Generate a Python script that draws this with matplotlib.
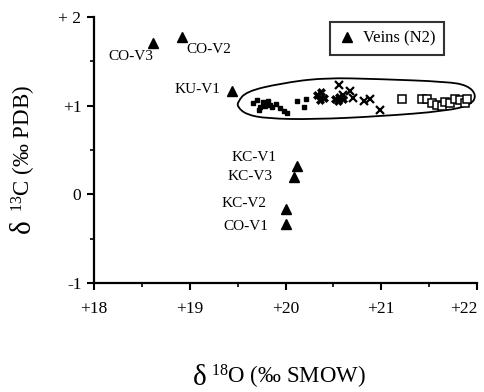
import matplotlib
matplotlib.use("Agg")
import matplotlib.pyplot as plt
from matplotlib.path import Path
from matplotlib.patches import PathPatch
from matplotlib.ticker import MultipleLocator

plt.rcParams['font.family'] = ['Liberation Serif', 'DejaVu Serif']
plt.rcParams['mathtext.fontset'] = 'custom'
plt.rcParams['mathtext.rm'] = 'Liberation Serif'
plt.rcParams['mathtext.it'] = 'Liberation Serif:italic'

# veins (N2), labelled triangles
vein_names = ["CO-V3", "CO-V2", "KU-V1", "KC-V1", "KC-V3", "KC-V2", "CO-V1"]
vein_o = [18.62, 18.92, 19.44, 20.12, 20.09, 20.01, 20.01]
vein_c = [1.71, 1.78, 1.16, 0.32, 0.19, -0.16, -0.33]
label_o = [18.38, 19.20, 19.08, 19.67, 19.63, 19.57, 19.59]
label_c = [1.56, 1.63, 1.18, 0.41, 0.20, -0.10, -0.36]

# host rock groups inside the outline
fsq_o = [19.66, 19.70, 19.73, 19.76, 19.79, 19.82, 19.86, 19.90, 19.94, 19.98,
         20.02, 19.72, 19.84, 20.12, 20.21, 20.19]
fsq_c = [1.03, 1.06, 0.99, 1.04, 1.00, 1.05, 0.98, 1.02, 0.97, 0.94,
         0.92, 0.95, 1.01, 1.05, 1.08, 0.98]
ast_o = [20.33, 20.37, 20.40, 20.36, 20.52, 20.56, 20.60, 20.55]
ast_c = [1.12, 1.15, 1.09, 1.06, 1.07, 1.10, 1.07, 1.05]
x_o = [20.56, 20.67, 20.71, 20.82, 20.88, 20.99, 20.60]
x_c = [1.23, 1.16, 1.09, 1.05, 1.08, 0.95, 1.12]
osq_o = [21.22, 21.43, 21.48, 21.53, 21.58, 21.63, 21.67, 21.72, 21.77, 21.82, 21.87, 21.90]
osq_c = [1.08, 1.07, 1.07, 1.03, 1.01, 1.00, 1.04, 1.03, 1.07, 1.06, 1.03, 1.07]

# hand-drawn outline around the host rock data
outline_o = [19.50, 19.59, 19.943, 20.395, 20.987, 21.684, 21.90, 21.995,
             21.94, 21.684, 20.987, 20.290, 19.804, 19.59, 19.50]
outline_c = [1.04, 1.16, 1.25, 1.315, 1.30, 1.27, 1.23, 1.121,
             1.01, 0.94, 0.88, 0.845, 0.855, 0.90, 0.985]

fig = plt.figure(figsize=(4.85, 3.92), dpi=100)
ax = fig.add_axes([94 / 485, 1 - 283 / 392, 383 / 485, 266 / 392])

ax.plot(vein_o, vein_c, linestyle="none", marker="^", color="black",
        markersize=6.5, label="Veins (N2)")
for name, xo, yc in zip(vein_names, label_o, label_c):
    ax.text(xo, yc, name, ha="center", va="center", fontsize=11)

ax.plot(fsq_o, fsq_c, linestyle="none", marker="s", color="black", markersize=3.5)
ax.plot(ast_o, ast_c, linestyle="none", marker="X", color="black", markersize=6,
        markeredgewidth=0.5)
ax.plot(x_o, x_c, linestyle="none", marker="x", color="black", markersize=6,
        markeredgewidth=1.6)
ax.plot(osq_o, osq_c, linestyle="none", marker="s", markerfacecolor="white",
        markeredgecolor="black", markersize=5.5, markeredgewidth=1.1)

# closed quadratic spline through the outline
pts = list(zip(outline_o, outline_c))
n = len(pts)
mids = [((pts[i][0] + pts[(i + 1) % n][0]) / 2, (pts[i][1] + pts[(i + 1) % n][1]) / 2)
        for i in range(n)]
verts = [mids[-1]]
codes = [Path.MOVETO]
for i in range(n):
    verts += [pts[i], mids[i]]
    codes += [Path.CURVE3, Path.CURVE3]
ax.add_patch(PathPatch(Path(verts, codes), facecolor="none", edgecolor="black", lw=1.3))

ax.set_xlim(18, 22)
ax.set_ylim(-1, 2)
ax.set_xticks([18, 19, 20, 21, 22])
ax.set_xticklabels(["+18", "+19", "+20", "+21", "+22"])
ax.set_yticks([-1, 0, 1, 2])
ax.set_yticklabels(["-1", "0", "+1", "+ 2"])
ax.xaxis.set_minor_locator(MultipleLocator(0.5))
ax.yaxis.set_minor_locator(MultipleLocator(0.5))
ax.tick_params(which="major", length=5, width=1.5, labelsize=12.5, direction="out")
ax.tick_params(which="minor", length=3, width=1.2, direction="out")
ax.tick_params(axis="x", pad=8)
ax.tick_params(axis="y", pad=4)
ax.get_xticklabels()[-1].set_horizontalalignment("right")
for side in ["top", "right"]:
    ax.spines[side].set_visible(False)
for side in ["left", "bottom"]:
    ax.spines[side].set_linewidth(1.6)

leg = ax.legend(loc="upper right", bbox_to_anchor=(0.914, 0.98), fontsize=12,
                frameon=True, fancybox=False, handletextpad=0.5, handlelength=1.0,
                borderpad=0.5, borderaxespad=0)
leg.get_frame().set_edgecolor("black")
leg.get_frame().set_linewidth(1.5)

# axis titles
fig.text(193 / 485, 1 - 385 / 392, "\u03b4", fontsize=21, ha="left", va="baseline")
fig.text(211 / 485, 1 - 384 / 392, "${}^{18}$O (\u2030 SMOW)", fontsize=16.5,
         ha="left", va="baseline")
fig.text(23 / 485, 1 - 233 / 392, "\u03b4", fontsize=21, rotation=90,
         ha="center", va="bottom")
fig.text(24 / 485, 1 - 212 / 392, "${}^{13}$C (\u2030 PDB)", fontsize=16.5,
         rotation=90, ha="center", va="bottom")

fig.savefig("out.png", dpi=100)
plt.close(fig)
